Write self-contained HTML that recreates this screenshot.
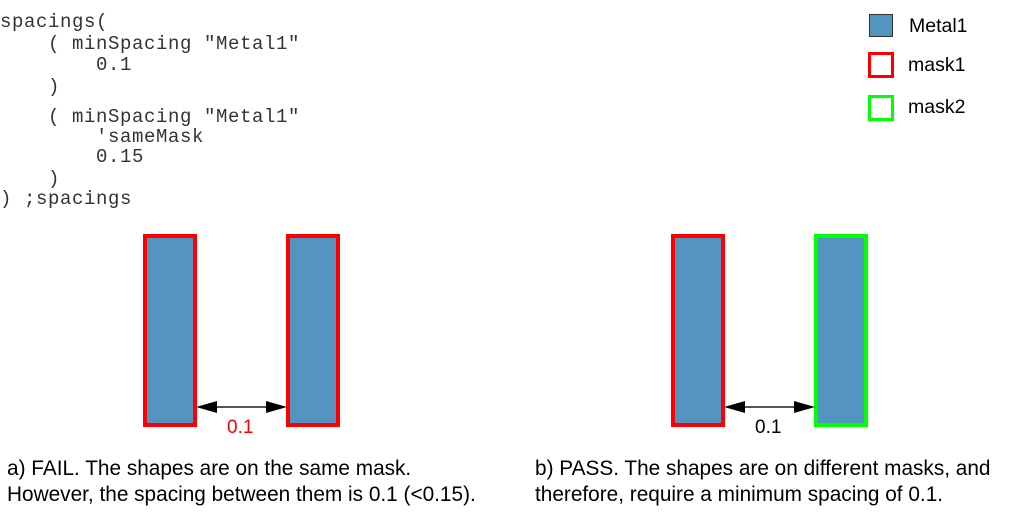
<!DOCTYPE html>
<html><head><meta charset="utf-8"><style>
html,body{margin:0;padding:0;background:#fff;width:1013px;height:520px;overflow:hidden;position:relative}
.c{position:absolute;font-family:"Liberation Mono",monospace;font-size:19px;letter-spacing:0.6px;color:#333;white-space:pre;line-height:20px}
.t{position:absolute;font-family:"Liberation Sans",sans-serif;font-size:20.8px;color:#000;white-space:pre;line-height:22px}
.r{position:absolute;box-sizing:border-box;background:#5494c0;border:4px solid #f00}
</style></head><body>
<div class="c" style="left:0;top:12px">spacings(</div>
<div class="c" style="left:0;top:34px">    ( minSpacing "Metal1"</div>
<div class="c" style="left:0;top:55px">        0.1</div>
<div class="c" style="left:0;top:77px">    )</div>
<div class="c" style="left:0;top:107px">    ( minSpacing "Metal1"</div>
<div class="c" style="left:0;top:127px">        'sameMask</div>
<div class="c" style="left:0;top:147px">        0.15</div>
<div class="c" style="left:0;top:169px">    )</div>
<div class="c" style="left:0;top:189px">) ;spacings</div>

<div style="position:absolute;left:869px;top:14px;width:24px;height:23px;box-sizing:border-box;background:#5494c0;border:1px solid #333"></div>
<div style="position:absolute;left:868px;top:52px;width:26px;height:26px;box-sizing:border-box;border:3px solid #f00"></div>
<div style="position:absolute;left:868px;top:95px;width:26px;height:26px;box-sizing:border-box;border:3px solid #0f0"></div>
<div class="t" style="left:909px;top:15px;font-size:19.5px">Metal1</div>
<div class="t" style="left:908px;top:54px;font-size:19.5px">mask1</div>
<div class="t" style="left:908px;top:96px;font-size:19.5px">mask2</div>

<div class="r" style="left:143px;top:234px;width:54px;height:193px"></div>
<div class="r" style="left:286px;top:234px;width:54px;height:193px"></div>
<div class="r" style="left:671px;top:234px;width:54px;height:193px"></div>
<div class="r" style="left:814px;top:234px;width:54px;height:193px;border-color:#0f0"></div>

<svg style="position:absolute;left:0;top:0" width="1013" height="520">
<line x1="210" y1="407" x2="274" y2="407" stroke="#555" stroke-width="2"/>
<polygon points="196,407 217,401 217,413" fill="#000"/>
<polygon points="287,407 266,401 266,413" fill="#000"/>
<line x1="738" y1="407" x2="802" y2="407" stroke="#555" stroke-width="2"/>
<polygon points="724,407 745,401 745,413" fill="#000"/>
<polygon points="815,407 794,401 794,413" fill="#000"/>
</svg>
<div class="t" style="left:227px;top:417px;color:#f00;font-size:19px">0.1</div>
<div class="t" style="left:755px;top:417px;font-size:19px">0.1</div>

<div class="t" style="left:7px;top:458px">a) FAIL. The shapes are on the same mask.</div>
<div class="t" style="left:7px;top:484px">However, the spacing between them is 0.1 (&lt;0.15).</div>
<div class="t" style="left:535px;top:458px">b) PASS. The shapes are on different masks, and</div>
<div class="t" style="left:535px;top:484px">therefore, require a minimum spacing of 0.1.</div>
</body></html>
